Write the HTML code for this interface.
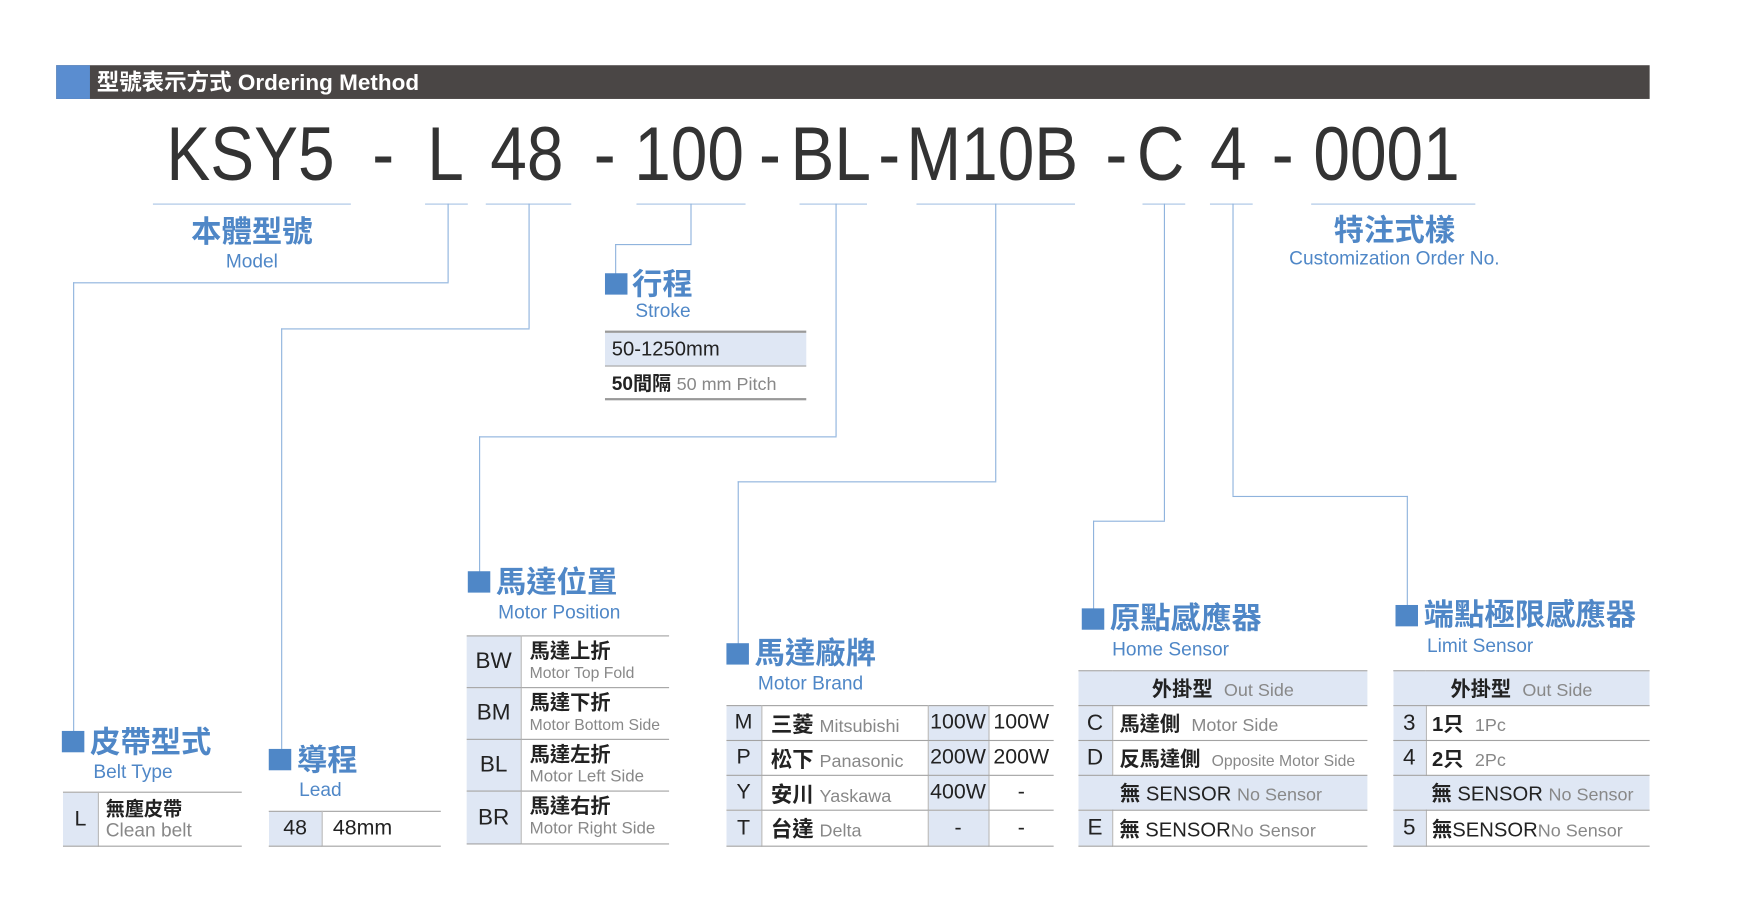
<!DOCTYPE html>
<html><head><meta charset="utf-8">
<style>
html,body{margin:0;padding:0;background:#fff;}
body{width:1764px;height:903px;overflow:hidden;position:relative;}
#w{position:absolute;left:0;top:0;width:1550px;height:794px;transform:scale(1.1245,1.1245);transform-origin:0 0;font-family:"Liberation Sans","Noto Sans CJK TC",sans-serif;}
.a{position:absolute;}
.hl{position:absolute;height:1px;background:#8fb3dd;}
.vl{position:absolute;width:1px;background:#8fb3dd;}
.ul{position:absolute;height:1px;background:#a9c4e4;top:181px;}
.sq{position:absolute;width:20px;height:19px;background:#4f87c7;}
.tt{position:absolute;color:#4f87c7;font-weight:bold;font-size:27px;line-height:30px;white-space:nowrap;font-family:"Liberation Sans","Noto Sans CJK TC",sans-serif;}
.st{position:absolute;color:#4f87c7;font-size:17px;line-height:18px;white-space:nowrap;}
.code{position:absolute;top:97px;font-size:68px;line-height:80px;color:#333;white-space:nowrap;transform:scaleX(0.86);transform-origin:0 0;}
table{position:absolute;border-collapse:collapse;table-layout:fixed;}
td{padding:0;border-top:1.5px solid #a3a3a3;border-bottom:1.5px solid #a3a3a3;color:#222;white-space:nowrap;overflow:hidden;}
.lb{background:#dfe7f4;}
.c{text-align:center;}
.g{color:#888;font-size:16px;}
.vr{border-right:1px solid #b9b9b9;}
</style></head><body><div id="w">
<div class="a" style="left:50px;top:58px;width:1417px;height:30px;background:#4a4645;"></div>
<div class="a" style="left:50px;top:58px;width:30px;height:30px;background:#5a8dd0;"></div>
<div class="a" style="left:86px;top:60px;color:#fff;font-weight:bold;font-size:20px;line-height:28px;white-space:nowrap;">型號表示方式 Ordering Method</div>

<div class="code" style="left:148px;">KSY5</div>
<div class="code" style="left:331px;">-</div>
<div class="code" style="left:380px;">L</div>
<div class="code" style="left:436px;">48</div>
<div class="code" style="left:528px;">-</div>
<div class="code" style="left:564px;">100</div>
<div class="code" style="left:675px;">-</div>
<div class="code" style="left:703px;">BL</div>
<div class="code" style="left:781px;">-</div>
<div class="code" style="left:806px;">M10B</div>
<div class="code" style="left:983px;">-</div>
<div class="code" style="left:1011px;">C</div>
<div class="code" style="left:1076px;">4</div>
<div class="code" style="left:1131px;">-</div>
<div class="code" style="left:1168px;">0001</div>

<div class="ul" style="left:136px;width:176px;"></div>
<div class="ul" style="left:378px;width:38px;"></div>
<div class="ul" style="left:432px;width:76px;"></div>
<div class="ul" style="left:566px;width:97px;"></div>
<div class="ul" style="left:711px;width:60px;"></div>
<div class="ul" style="left:815px;width:141px;"></div>
<div class="ul" style="left:1016px;width:38px;"></div>
<div class="ul" style="left:1076px;width:38px;"></div>
<div class="ul" style="left:1166px;width:146px;"></div>

<div class="vl" style="left:398px;top:181px;height:70px;"></div>
<div class="hl" style="left:65px;top:251px;width:334px;"></div>
<div class="vl" style="left:65px;top:251px;height:400px;"></div>

<div class="vl" style="left:470px;top:181px;height:111px;"></div>
<div class="hl" style="left:250px;top:292px;width:221px;"></div>
<div class="vl" style="left:250px;top:292px;height:375px;"></div>

<div class="vl" style="left:614px;top:181px;height:36px;"></div>
<div class="hl" style="left:547px;top:217px;width:68px;"></div>
<div class="vl" style="left:547px;top:217px;height:27px;"></div>

<div class="vl" style="left:743px;top:181px;height:207px;"></div>
<div class="hl" style="left:426px;top:388px;width:318px;"></div>
<div class="vl" style="left:426px;top:388px;height:121px;"></div>

<div class="vl" style="left:885px;top:181px;height:247px;"></div>
<div class="hl" style="left:656px;top:428px;width:230px;"></div>
<div class="vl" style="left:656px;top:428px;height:145px;"></div>

<div class="vl" style="left:1035px;top:181px;height:282px;"></div>
<div class="hl" style="left:972px;top:463px;width:64px;"></div>
<div class="vl" style="left:972px;top:463px;height:79px;"></div>

<div class="vl" style="left:1096px;top:181px;height:260px;"></div>
<div class="hl" style="left:1096px;top:441px;width:156px;"></div>
<div class="vl" style="left:1251px;top:441px;height:98px;"></div>

<div class="tt" style="left:124px;width:200px;text-align:center;top:191px;">本體型號</div>
<div class="st" style="left:124px;width:200px;text-align:center;top:224px;">Model</div>
<div class="tt" style="left:1140px;width:200px;text-align:center;top:190px;">特注式樣</div>
<div class="st" style="left:1090px;width:300px;text-align:center;top:221px;">Customization Order No.</div>

<div class="sq" style="left:538px;top:243px;"></div>
<div class="tt" style="left:562px;top:238px;">行程</div>
<div class="st" style="left:565px;top:268px;">Stroke</div>
<table style="left:538px;top:294px;width:179px;">
<tr style="height:30px"><td class="lb" style="font-size:18px;padding-left:6px;border-top:2px solid #999;">50-1250mm</td></tr>
<tr style="height:30px"><td style="font-size:17px;padding-left:6px;border-bottom:2px solid #999;"><b>50間隔</b> <span class="g">50 mm Pitch</span></td></tr>
</table>

<div class="sq" style="left:55px;top:650px;"></div>
<div class="tt" style="left:80px;top:645px;">皮帶型式</div>
<div class="st" style="left:83px;top:678px;">Belt Type</div>
<table style="left:56px;top:704px;width:159px;">
<tr style="height:48px"><td class="lb c vr" style="width:31px;font-size:19px;">L</td><td style="padding-left:6px;font-size:17px;line-height:19px;"><b>無塵皮帶</b><br><span class="g" style="font-size:17px;">Clean belt</span></td></tr>
</table>

<div class="sq" style="left:239px;top:666px;"></div>
<div class="tt" style="left:264px;top:661px;">導程</div>
<div class="st" style="left:266px;top:694px;">Lead</div>
<table style="left:239px;top:721px;width:153px;">
<tr style="height:31px"><td class="lb c vr" style="width:47px;font-size:19px;">48</td><td style="padding-left:9px;font-size:19px;">48mm</td></tr>
</table>

<div class="sq" style="left:416px;top:508px;"></div>
<div class="tt" style="left:441px;top:503px;">馬達位置</div>
<div class="st" style="left:443px;top:536px;">Motor Position</div>
<table style="left:415px;top:565px;width:180px;">
<tr style="height:46px"><td class="lb c vr" style="width:48px;font-size:20px;">BW</td><td style="padding-left:7px;font-size:18px;line-height:18px;"><b>馬達上折</b><br><span class="g" style="font-size:14px;">Motor Top Fold</span></td></tr>
<tr style="height:46px"><td class="lb c vr" style="font-size:20px;">BM</td><td style="padding-left:7px;font-size:18px;line-height:18px;"><b>馬達下折</b><br><span class="g" style="font-size:14px;">Motor Bottom Side</span></td></tr>
<tr style="height:46px"><td class="lb c vr" style="font-size:20px;">BL</td><td style="padding-left:7px;font-size:18px;line-height:18px;"><b>馬達左折</b><br><span class="g" style="font-size:15px;">Motor Left Side</span></td></tr>
<tr style="height:47px"><td class="lb c vr" style="font-size:20px;">BR</td><td style="padding-left:7px;font-size:18px;line-height:18px;"><b>馬達右折</b><br><span class="g" style="font-size:15px;">Motor Right Side</span></td></tr>
</table>

<div class="sq" style="left:646px;top:572px;"></div>
<div class="tt" style="left:671px;top:566px;">馬達廠牌</div>
<div class="st" style="left:674px;top:599px;">Motor Brand</div>
<table style="left:646px;top:627px;width:291px;font-size:19px;">
<colgroup><col style="width:31px"><col style="width:148px"><col style="width:54px"><col style="width:58px"></colgroup>
<tr style="height:31px"><td class="lb c vr">M</td><td class="vr" style="padding-left:8px;"><b>三菱</b> <span class="g">Mitsubishi</span></td><td class="lb c vr">100W</td><td class="c">100W</td></tr>
<tr style="height:31px"><td class="lb c vr">P</td><td class="vr" style="padding-left:8px;"><b>松下</b> <span class="g">Panasonic</span></td><td class="lb c vr">200W</td><td class="c">200W</td></tr>
<tr style="height:31px"><td class="lb c vr">Y</td><td class="vr" style="padding-left:8px;"><b>安川</b> <span class="g">Yaskawa</span></td><td class="lb c vr">400W</td><td class="c">-</td></tr>
<tr style="height:32px"><td class="lb c vr">T</td><td class="vr" style="padding-left:8px;"><b>台達</b> <span class="g">Delta</span></td><td class="lb c vr">-</td><td class="c">-</td></tr>
</table>

<div class="sq" style="left:962px;top:541px;"></div>
<div class="tt" style="left:987px;top:535px;">原點感應器</div>
<div class="st" style="left:989px;top:569px;">Home Sensor</div>
<table style="left:959px;top:596px;width:257px;font-size:18px;">
<colgroup><col style="width:30px"><col style="width:227px"></colgroup>
<tr style="height:31px"><td class="lb c" colspan="2"><b>外掛型</b>&nbsp; <span class="g">Out Side</span></td></tr>
<tr style="height:31px"><td class="lb c vr" style="font-size:20px;">C</td><td style="padding-left:6px;"><b>馬達側</b>&nbsp; <span class="g">Motor Side</span></td></tr>
<tr style="height:31px"><td class="lb c vr" style="font-size:20px;">D</td><td style="padding-left:6px;"><b>反馬達側</b>&nbsp; <span class="g" style="font-size:14px;">Opposite Motor Side</span></td></tr>
<tr style="height:31px"><td class="lb" colspan="2" style="padding-left:37px;"><b>無</b> SENSOR <span class="g">No Sensor</span></td></tr>
<tr style="height:32px"><td class="lb c vr" style="font-size:20px;">E</td><td style="padding-left:6px;"><b>無</b> SENSOR<span class="g">No Sensor</span></td></tr>
</table>

<div class="sq" style="left:1241px;top:538px;"></div>
<div class="tt" style="left:1266px;top:532px;">端點極限感應器</div>
<div class="st" style="left:1269px;top:566px;">Limit Sensor</div>
<table style="left:1239px;top:596px;width:228px;font-size:18px;">
<colgroup><col style="width:29px"><col style="width:199px"></colgroup>
<tr style="height:31px"><td class="lb c" colspan="2"><b>外掛型</b>&nbsp; <span class="g">Out Side</span></td></tr>
<tr style="height:31px"><td class="lb c vr" style="font-size:20px;">3</td><td style="padding-left:5px;"><b>1只</b>&nbsp; <span class="g">1Pc</span></td></tr>
<tr style="height:31px"><td class="lb c vr" style="font-size:20px;">4</td><td style="padding-left:5px;"><b>2只</b>&nbsp; <span class="g">2Pc</span></td></tr>
<tr style="height:31px"><td class="lb" colspan="2" style="padding-left:34px;"><b>無</b> SENSOR <span class="g">No Sensor</span></td></tr>
<tr style="height:32px"><td class="lb c vr" style="font-size:20px;">5</td><td style="padding-left:5px;"><b>無</b>SENSOR<span class="g">No Sensor</span></td></tr>
</table>
</div></body></html>
